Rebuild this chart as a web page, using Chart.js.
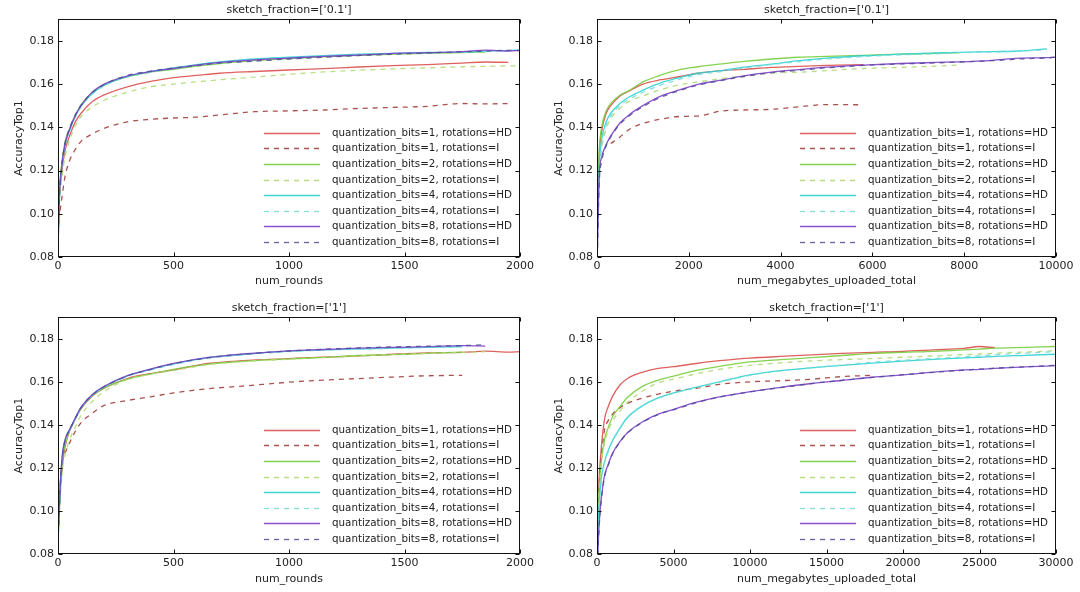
<!DOCTYPE html>
<html>
<head>
<meta charset="utf-8">
<script src="https://cdn.jsdelivr.net/npm/chart.js@4.4.1/dist/chart.umd.min.js"></script>
<style>
  html, body { margin: 0; padding: 0; background: #fff; }
  #wrap { position: relative; width: 1080px; height: 592px; }
  .cell { position: absolute; width: 540px; height: 296px; }
</style>
</head>
<body>
<div id="wrap">
  <div class="cell" style="left:0;top:0"><canvas id="chartTL"></canvas></div>
  <div class="cell" style="left:540px;top:0"><canvas id="chartTR"></canvas></div>
  <div class="cell" style="left:0;top:296px"><canvas id="chartBL"></canvas></div>
  <div class="cell" style="left:540px;top:296px"><canvas id="chartBR"></canvas></div>
</div>
<script>
// ---- dane ----
const seriesLabels = [
    'quantization_bits=1, rotations=HD',
    'quantization_bits=1, rotations=I',
    'quantization_bits=2, rotations=HD',
    'quantization_bits=2, rotations=I',
    'quantization_bits=4, rotations=HD',
    'quantization_bits=4, rotations=I',
    'quantization_bits=8, rotations=HD',
    'quantization_bits=8, rotations=I'
];

const yTicks = [0.08, 0.10, 0.12, 0.14, 0.16, 0.18];
const roundsTicks = [0, 500, 1000, 1500, 2000];
const mbTicksSmall = [0, 2000, 4000, 6000, 8000, 10000];
const mbTicksLarge = [0, 5000, 10000, 15000, 20000, 25000, 30000];

// sketch_fraction=0.1, num_rounds
const tlRounds = [0, 5, 15, 30, 50, 75, 100, 150, 200, 300, 400, 500, 600, 700, 850, 1000, 1150, 1300, 1450, 1600, 1750, 1850, 1950, 2000];
const tlBits1HD = [0.090, 0.105, 0.118, 0.129, 0.136, 0.1425, 0.1465, 0.152, 0.155, 0.1587, 0.1612, 0.1630, 0.1640, 0.1650, 0.1658, 0.1665, 0.1671, 0.1679, 0.1685, 0.1690, 0.1697, 0.1702, 0.1700];
const tlBits1I = [0.097, 0.099, 0.106, 0.117, 0.1245, 0.1298, 0.1335, 0.1370, 0.1395, 0.1425, 0.1437, 0.1443, 0.1447, 0.1457, 0.1472, 0.1476, 0.1480, 0.1487, 0.1492, 0.1497, 0.1510, 0.1508, 0.1510];
const tlBits2HD = [0.085, 0.107, 0.122, 0.133, 0.1395, 0.1455, 0.1505, 0.1560, 0.1595, 0.1633, 0.1655, 0.1668, 0.1683, 0.1695, 0.1708, 0.1718, 0.1726, 0.1733, 0.1738, 0.1742, 0.1746, 0.1748];
const tlBits2I = [0.090, 0.103, 0.115, 0.126, 0.134, 0.1408, 0.1450, 0.1495, 0.1525, 0.1562, 0.1587, 0.1600, 0.1610, 0.1620, 0.1632, 0.1645, 0.1656, 0.1664, 0.1670, 0.1675, 0.1680, 0.1682, 0.1684, 0.1684];
const tlBits4HD = [0.083, 0.105, 0.120, 0.1315, 0.1385, 0.1450, 0.1498, 0.1558, 0.1595, 0.1635, 0.1658, 0.1675, 0.1690, 0.1702, 0.1716, 0.1724, 0.1731, 0.1738, 0.1742, 0.1746, 0.1748, 0.1752, 0.1755, 0.1757];
const tlBits4I = [0.084, 0.104, 0.119, 0.131, 0.1382, 0.1447, 0.1495, 0.1555, 0.1592, 0.1632, 0.1654, 0.1670, 0.1686, 0.1698, 0.1711, 0.1720, 0.1729, 0.1735, 0.1740, 0.1744, 0.1747, 0.1750];
const tlBits8HD = [0.082, 0.106, 0.121, 0.132, 0.1390, 0.1455, 0.1500, 0.1565, 0.1600, 0.1637, 0.1657, 0.1672, 0.1688, 0.1700, 0.1712, 0.1720, 0.1728, 0.1734, 0.1742, 0.1745, 0.1750, 0.1757, 0.1753, 0.1756];
const tlBits8I = [0.081, 0.105, 0.121, 0.1325, 0.1395, 0.1458, 0.1502, 0.1562, 0.1598, 0.1640, 0.1660, 0.1674, 0.1685, 0.1697, 0.1706, 0.1716, 0.1724, 0.1732, 0.1738, 0.1744, 0.1749, 0.1752, 0.1756, 0.1755];

// sketch_fraction=0.1, num_megabytes_uploaded_total
const trMegabytes = [0, 50, 100, 200, 300, 500, 700, 1000, 1400, 1800, 2200, 2700, 3200, 3800, 4400, 5000, 5800, 6600, 7400, 7900, 8600, 9200, 9800, 10000];
const trBits1HD = [0.100, 0.128, 0.138, 0.1465, 0.1500, 0.1545, 0.1568, 0.1600, 0.1620, 0.1635, 0.1650, 0.1662, 0.1668, 0.1677, 0.1682, 0.1686, 0.1690];
const trBits1I = [null, null, null, null, 0.1325, 0.1355, 0.1390, 0.1418, 0.1438, 0.1450, 0.1452, 0.1475, 0.1480, 0.1483, 0.1495, 0.1505, 0.1504];
const trBits2HD = [0.100, 0.130, 0.140, 0.1475, 0.1510, 0.1548, 0.1570, 0.1610, 0.1642, 0.1667, 0.1680, 0.1693, 0.1705, 0.1716, 0.1724, 0.1728, 0.1733, 0.1738, 0.1742, 0.1745];
const trBits2I = [0.090, 0.118, 0.130, 0.139, 0.1440, 0.1488, 0.1520, 0.1545, 0.1575, 0.1597, 0.1610, 0.1625, 0.1638, 0.1652, 0.1655, 0.1662, 0.1672, 0.1677, 0.1683, 0.1688];
const trBits4HD = [0.085, 0.122, 0.134, 0.1425, 0.1465, 0.1510, 0.1540, 0.1572, 0.1607, 0.1630, 0.1650, 0.1662, 0.1678, 0.1692, 0.1708, 0.1720, 0.1731, 0.1738, 0.1744, 0.1747, 0.1750, 0.1753, 0.1763];
const trBits4I = [0.085, 0.120, 0.132, 0.1410, 0.1452, 0.1500, 0.1530, 0.1562, 0.1597, 0.1622, 0.1643, 0.1658, 0.1674, 0.1690, 0.1704, 0.1716, 0.1727, 0.1735, 0.1740, 0.1745, 0.1748, 0.1752, 0.1758];
const trBits8HD = [0.075, 0.118, 0.126, 0.132, 0.1360, 0.1420, 0.1458, 0.1500, 0.1545, 0.1573, 0.1598, 0.1618, 0.1638, 0.1655, 0.1667, 0.1678, 0.1688, 0.1695, 0.1700, 0.1703, 0.1710, 0.1720, 0.1722, 0.1725];
const trBits8I = [0.075, 0.115, 0.124, 0.1315, 0.1355, 0.1415, 0.1452, 0.1495, 0.1540, 0.1570, 0.1595, 0.1616, 0.1635, 0.1652, 0.1664, 0.1675, 0.1686, 0.1693, 0.1698, 0.1702, 0.1708, 0.1716, 0.1721, 0.1724];

// sketch_fraction=1, num_rounds
const blRounds = [0, 5, 10, 20, 35, 50, 75, 100, 150, 200, 300, 400, 500, 650, 800, 1000, 1150, 1300, 1450, 1600, 1750, 1850, 1950, 2000];
const blBits1HD = [0.090, 0.100, 0.111, 0.123, 0.132, 0.137, 0.1428, 0.1475, 0.1535, 0.1570, 0.1615, 0.1638, 0.1655, 0.1685, 0.1698, 0.1708, 0.1715, 0.1720, 0.1728, 0.1734, 0.1737, 0.1742, 0.1738, 0.1740];
const blBits1I = [0.090, 0.098, 0.108, 0.1234, 0.128, 0.1316, 0.137, 0.141, 0.1455, 0.149, 0.1513, 0.153, 0.1548, 0.1568, 0.158, 0.1598, 0.1608, 0.1615, 0.1622, 0.1628, 0.1630];
const blBits2HD = [0.088, 0.100, 0.110, 0.124, 0.1325, 0.1372, 0.1430, 0.1478, 0.1537, 0.1572, 0.1612, 0.1636, 0.1658, 0.1682, 0.1695, 0.1706, 0.1713, 0.1722, 0.1726, 0.1732, 0.1738];
const blBits2I = [0.088, 0.098, 0.108, 0.120, 0.128, 0.133, 0.139, 0.1445, 0.151, 0.1555, 0.161, 0.1635, 0.1652, 0.1680, 0.1694, 0.1705, 0.1712, 0.1720, 0.1727, 0.1732, 0.1736, 0.1740];
const blBits4HD = [0.085, 0.100, 0.112, 0.127, 0.1345, 0.1375, 0.1430, 0.1480, 0.1540, 0.1577, 0.1627, 0.1657, 0.1683, 0.1712, 0.1727, 0.1742, 0.1748, 0.1752, 0.1757, 0.1760, 0.1764];
const blBits4I = [0.085, 0.099, 0.111, 0.126, 0.1340, 0.1372, 0.1428, 0.1478, 0.1538, 0.1575, 0.1625, 0.1655, 0.1680, 0.1710, 0.1725, 0.1740, 0.1747, 0.1751, 0.1756, 0.1760, 0.1763];
const blBits8HD = [0.085, 0.101, 0.113, 0.127, 0.1345, 0.1378, 0.1432, 0.1482, 0.1542, 0.1579, 0.1629, 0.1659, 0.1685, 0.1713, 0.1729, 0.1744, 0.1750, 0.1756, 0.1760, 0.1763, 0.1768, 0.1766];
const blBits8I = [0.084, 0.100, 0.112, 0.126, 0.1340, 0.1376, 0.1430, 0.1480, 0.1540, 0.1577, 0.1627, 0.1657, 0.1684, 0.1711, 0.1728, 0.1743, 0.1751, 0.1757, 0.1762, 0.1765, 0.1768, 0.1772];

// sketch_fraction=1, num_megabytes_uploaded_total
const brMegabytes = [0, 100, 200, 300, 500, 700, 1000, 1500, 2000, 3000, 4000, 5000, 6500, 8000, 10000, 12000, 14000, 16000, 18000, 20000, 22000, 24000, 25000, 26000, 28000, 30000];
const brBits1HD = [0.085, 0.110, 0.122, 0.131, 0.143, 0.1478, 0.153, 0.1585, 0.1615, 0.1645, 0.1662, 0.1670, 0.1685, 0.1698, 0.1710, 0.1718, 0.1725, 0.1732, 0.1737, 0.1741, 0.1748, 0.1755, 0.1764, 0.1758];
const brBits1I = [0.085, 0.105, 0.118, 0.126, 0.138, 0.1415, 0.1448, 0.1480, 0.1500, 0.1525, 0.1543, 0.1556, 0.1570, 0.1588, 0.1600, 0.1605, 0.1612, 0.1624, 0.1630];
const brBits2HD = [0.083, 0.105, 0.116, 0.124, 0.1335, 0.1380, 0.1435, 0.1485, 0.1528, 0.1580, 0.1608, 0.1626, 0.1653, 0.1672, 0.1692, 0.1703, 0.1712, 0.1722, 0.1732, 0.1737, 0.1741, 0.1748, 0.1752, 0.1756, 0.1760, 0.1764];
const brBits2I = [0.083, 0.103, 0.114, 0.122, 0.1320, 0.1365, 0.1415, 0.1465, 0.1505, 0.1558, 0.1595, 0.1612, 0.1637, 0.1658, 0.1676, 0.1688, 0.1697, 0.1703, 0.1708, 0.1714, 0.1720, 0.1726, 0.1729, 0.1733, 0.1738, 0.1744];
const brBits4HD = [0.080, 0.098, 0.108, 0.116, 0.123, 0.1275, 0.1325, 0.1385, 0.1435, 0.1490, 0.1525, 0.1548, 0.1575, 0.1600, 0.1632, 0.1652, 0.1665, 0.1676, 0.1687, 0.1696, 0.1704, 0.1711, 0.1714, 0.1718, 0.1723, 0.1728];
const brBits4I = [0.080, 0.097, 0.107, 0.115, 0.1225, 0.1270, 0.1320, 0.1382, 0.1432, 0.1488, 0.1523, 0.1546, 0.1573, 0.1598, 0.1630, 0.1651, 0.1665, 0.1678, 0.1691, 0.1700, 0.1708, 0.1716, 0.1720, 0.1726, 0.1733, 0.1740];
const brBits8HD = [0.070, 0.088, 0.100, 0.107, 0.1167, 0.1210, 0.1265, 0.1322, 0.1364, 0.1415, 0.1450, 0.1472, 0.1505, 0.1530, 0.1554, 0.1574, 0.1592, 0.1606, 0.1621, 0.1632, 0.1645, 0.1655, 0.1658, 0.1662, 0.1669, 0.1675];
const brBits8I = [0.070, 0.087, 0.099, 0.106, 0.1160, 0.1205, 0.1262, 0.1320, 0.1362, 0.1413, 0.1448, 0.1470, 0.1503, 0.1529, 0.1553, 0.1573, 0.1591, 0.1607, 0.1620, 0.1633, 0.1644, 0.1654, 0.1659, 0.1663, 0.1670, 0.1677];

// ---- styl ----
const FONT = '"DejaVu Sans", Arial, sans-serif';
const TEXT = '#222';
const lineColors = [
    'rgba(218, 80, 78, 0.9)',   // czerwony
    'rgba(160, 62, 58, 0.9)',
    'rgba(120, 205, 60, 0.9)',  // zielony
    'rgba(175, 218, 115, 0.9)',
    'rgba(45, 208, 210, 0.9)',  // cyjan
    'rgba(120, 218, 218, 0.9)',
    'rgba(128, 62, 200, 0.9)',  // fiolet
    'rgba(85, 78, 155, 0.9)'
];

function makeDatasets(xs, ys) {
    return ys.map((arr, i) => ({
        label: seriesLabels[i],
        data: arr.map((v, j) => ({ x: xs[j], y: v })),
        borderColor: lineColors[i],
        borderDash: i % 2 ? [5, 5] : [],
        borderWidth: 1.3,
        pointRadius: 0,
        fill: false,
        cubicInterpolationMode: 'monotone',
        order: ys.length - i // ostatnia seria na wierzchu, jak w matplotlib
    }));
}

// ramka dookoła obszaru wykresu + znaczniki skierowane do środka
const framePlugin = {
    id: 'frame',
    afterDatasetsDraw(chart) {
        const { ctx, chartArea: a, scales } = chart;
        ctx.save();
        ctx.strokeStyle = '#111';
        ctx.lineWidth = 1;
        const L = Math.round(a.left) + 0.5, R = Math.round(a.right) - 0.5;
        const T = Math.round(a.top) + 0.5, B = Math.round(a.bottom) - 0.5;
        ctx.strokeRect(L, T, R - L, B - T);
        ctx.beginPath();
        scales.x.ticks.forEach(t => {
            const px = Math.round(scales.x.getPixelForValue(t.value)) + 0.5;
            ctx.moveTo(px, B); ctx.lineTo(px, B - 4);
            ctx.moveTo(px, T); ctx.lineTo(px, T + 4);
        });
        scales.y.ticks.forEach(t => {
            const py = Math.round(scales.y.getPixelForValue(t.value)) + 0.5;
            ctx.moveTo(L, py); ctx.lineTo(L + 4, py);
            ctx.moveTo(R, py); ctx.lineTo(R - 4, py);
        });
        ctx.stroke();
        ctx.restore();
    }
};

// legenda w prawym dolnym rogu, bez ramki
const legendPlugin = {
    id: 'insideLegend',
    afterDraw(chart) {
        const { ctx, chartArea: a } = chart;
        const sets = chart.data.datasets;
        ctx.save();
        ctx.font = '10.3px ' + FONT;
        ctx.textBaseline = 'middle';
        const maxW = Math.max(...sets.map(d => ctx.measureText(d.label).width));
        const textX = a.right - 8 - maxW;
        const rowH = 15.6;
        const lastY = a.bottom - 15;
        sets.forEach((d, i) => {
            const y = Math.round(lastY - (sets.length - 1 - i) * rowH) + 0.5;
            ctx.strokeStyle = d.borderColor;
            ctx.lineWidth = 1.3;
            ctx.setLineDash(d.borderDash);
            ctx.beginPath();
            ctx.moveTo(textX - 68, y);
            ctx.lineTo(textX - 12, y);
            ctx.stroke();
            ctx.setLineDash([]);
            ctx.fillStyle = TEXT;
            ctx.fillText(d.label, textX, y);
        });
        ctx.restore();
    }
};

function makeChart(id, cfg) {
    return new Chart(document.getElementById(id), {
        type: 'line',
        data: { datasets: makeDatasets(cfg.xs, cfg.ys) },
        options: {
            responsive: true,
            maintainAspectRatio: false,
            animation: false,
            layout: { padding: { left: 0, right: cfg.padRight, top: 0, bottom: 0 } },
            plugins: {
                legend: { display: false },
                tooltip: { enabled: false },
                title: {
                    display: true,
                    text: cfg.title,
                    fullSize: false,
                    color: TEXT,
                    font: { family: FONT, size: 11, weight: 'normal' },
                    padding: { top: cfg.titleTop, bottom: cfg.titleBottom }
                }
            },
            scales: {
                x: {
                    type: 'linear',
                    min: 0,
                    max: cfg.xTicks[cfg.xTicks.length - 1],
                    afterBuildTicks: s => { s.ticks = cfg.xTicks.map(v => ({ value: v })); },
                    afterFit: s => { s.height = cfg.xHeight; },
                    grid: { display: false, drawTicks: false },
                    border: { display: false },
                    ticks: {
                        color: TEXT, font: { family: FONT, size: 11 },
                        padding: 3, maxRotation: 0, autoSkip: false,
                        callback: v => String(v)
                    },
                    title: {
                        display: true, text: cfg.xLabel, color: TEXT,
                        font: { family: FONT, size: 11 },
                        padding: { top: 0, bottom: cfg.xTitleBottom }
                    }
                },
                y: {
                    min: 0.08,
                    max: 0.19,
                    afterBuildTicks: s => { s.ticks = yTicks.map(v => ({ value: v })); },
                    afterFit: s => { s.width = cfg.yWidth; },
                    grid: { display: false, drawTicks: false },
                    border: { display: false },
                    ticks: {
                        color: TEXT, font: { family: FONT, size: 11 },
                        padding: 4,
                        callback: v => Number(v).toFixed(2)
                    },
                    title: {
                        display: true, text: 'AccuracyTop1', color: TEXT,
                        font: { family: FONT, size: 11 },
                        padding: { top: 13, bottom: 0 }
                    }
                }
            }
        },
        plugins: [framePlugin, legendPlugin]
    });
}

makeChart('chartTL', {
    title: "sketch_fraction=['0.1']", xLabel: 'num_rounds',
    xs: tlRounds, xTicks: roundsTicks,
    ys: [tlBits1HD, tlBits1I, tlBits2HD, tlBits2I, tlBits4HD, tlBits4I, tlBits8HD, tlBits8I],
    padRight: 20, yWidth: 58, xHeight: 39, xTitleBottom: 8,
    titleTop: 3.5, titleBottom: 2.5
});
makeChart('chartTR', {
    title: "sketch_fraction=['0.1']", xLabel: 'num_megabytes_uploaded_total',
    xs: trMegabytes, xTicks: mbTicksSmall,
    ys: [trBits1HD, trBits1I, trBits2HD, trBits2I, trBits4HD, trBits4I, trBits8HD, trBits8I],
    padRight: 24, yWidth: 57, xHeight: 39, xTitleBottom: 8,
    titleTop: 3.5, titleBottom: 2.5
});
makeChart('chartBL', {
    title: "sketch_fraction=['1']", xLabel: 'num_rounds',
    xs: blRounds, xTicks: roundsTicks,
    ys: [blBits1HD, blBits1I, blBits2HD, blBits2I, blBits4HD, blBits4I, blBits8HD, blBits8I],
    padRight: 20, yWidth: 58, xHeight: 38, xTitleBottom: 6,
    titleTop: 6, titleBottom: 2
});
makeChart('chartBR', {
    title: "sketch_fraction=['1']", xLabel: 'num_megabytes_uploaded_total',
    xs: brMegabytes, xTicks: mbTicksLarge,
    ys: [brBits1HD, brBits1I, brBits2HD, brBits2I, brBits4HD, brBits4I, brBits8HD, brBits8I],
    padRight: 24, yWidth: 57, xHeight: 38, xTitleBottom: 6,
    titleTop: 6, titleBottom: 2
});
</script>
</body>
</html>
